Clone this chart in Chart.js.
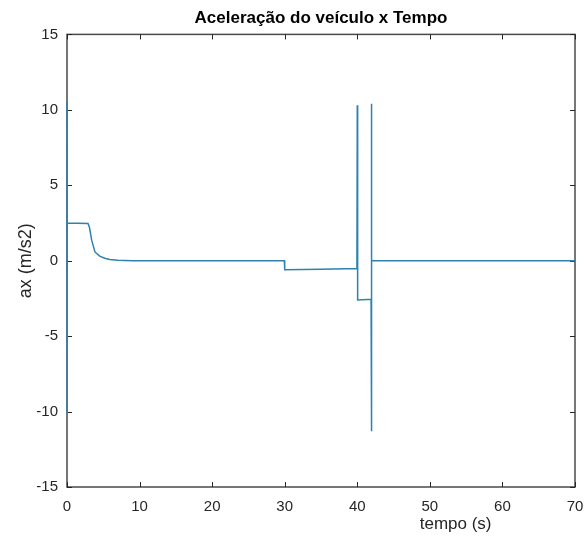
<!DOCTYPE html>
<html>
<head>
<meta charset="utf-8">
<script src="https://cdn.jsdelivr.net/npm/chart.js"></script>
<style>
  html, body { margin: 0; padding: 0; background: #fff; overflow: hidden; }
  #wrap { width: 585px; height: 544px; }
  canvas { display: block; }
</style>
</head>
<body>
<div id="wrap"><canvas id="acel" width="585" height="544"></canvas></div>
<script>
Chart.defaults.font.family = "'Liberation Sans', Arial, sans-serif";
Chart.defaults.color = "#262626";

// tempo (s) and ax (m/s2)
const tempo = [0, 0, 0.05, 2.9, 3.1, 3.4, 3.85, 4.5, 5.2, 5.9, 7.0, 9.0,
  29.95, 30, 35, 39.95, 40, 40.05, 41.9, 41.95, 41.95, 42, 70];
const ax = [10.5, -10.1, 2.5, 2.46, 2.2, 1.36, 0.58, 0.3, 0.16, 0.08, 0.03, 0,
  0, -0.6, -0.56, -0.52, 10.3, -2.6, -2.55, -11.3, 10.4, 0, 0];

const xTicks = [0, 10, 20, 30, 40, 50, 60, 70];
const yTicks = [-15, -10, -5, 0, 5, 10, 15];

const axisColor = '#4a4a4a';

const matlabBox = {
  id: 'matlabBox',
  beforeDatasetsDraw(chart) {
    const c = chart.ctx, a = chart.chartArea;
    const xs = chart.scales.x, ys = chart.scales.y;
    c.save();
    c.strokeStyle = axisColor;
    c.lineWidth = 1.5;
    c.strokeRect(a.left, a.top, a.right - a.left, a.bottom - a.top);
    c.lineWidth = 1;
    c.strokeStyle = '#262626';
    c.beginPath();
    xTicks.forEach(v => {
      const p = Math.round(xs.getPixelForValue(v)) + 0.5;
      c.moveTo(p, a.bottom); c.lineTo(p, a.bottom - 5);
      c.moveTo(p, a.top); c.lineTo(p, a.top + 5);
    });
    yTicks.forEach(v => {
      const p = Math.round(ys.getPixelForValue(v)) + 0.5;
      c.moveTo(a.left, p); c.lineTo(a.left + 5, p);
      c.moveTo(a.right, p); c.lineTo(a.right - 5, p);
    });
    c.stroke();
    c.restore();
  },
  afterDraw(chart) {
    const c = chart.ctx, a = chart.chartArea;
    c.save();
    c.fillStyle = '#262626';
    c.font = "17px 'Liberation Sans', Arial, sans-serif";
    c.textAlign = 'center';
    c.textBaseline = 'middle';
    c.fillText('tempo (s)', a.left + (a.right - a.left) * 0.765, 524);
    c.restore();
  }
};

new Chart(document.getElementById('acel'), {
  type: 'scatter',
  data: {
    datasets: [{
      label: 'ax',
      data: tempo.map((t, i) => ({ x: t, y: ax[i] })),
      showLine: true,
      borderColor: '#2f82b0',
      borderWidth: 1.5,
      pointRadius: 0,
      tension: 0,
      clip: 3
    }]
  },
  options: {
    responsive: false,
    animation: false,
    layout: { autoPadding: false, padding: { left: 0, right: 10, top: 0, bottom: 0 } },
    plugins: {
      legend: { display: false },
      tooltip: { enabled: false },
      title: {
        display: true,
        fullSize: false,
        text: 'Aceleração do veículo x Tempo',
        color: '#000',
        font: { size: 17, weight: 'bold' },
        padding: { top: 8, bottom: 6 }
      }
    },
    scales: {
      x: {
        type: 'linear',
        min: 0, max: 70,
        grid: { display: false, drawTicks: false },
        border: { display: false },
        ticks: { stepSize: 10, font: { size: 15 }, padding: 11, maxRotation: 0 },
        afterFit(s) { s.height = 57; s.paddingLeft = 0; s.paddingRight = 0; }
      },
      y: {
        min: -15, max: 15,
        grid: { display: false, drawTicks: false },
        border: { display: false },
        ticks: { stepSize: 5, font: { size: 15 }, padding: 9 },
        title: { display: true, text: 'ax (m/s2)', font: { size: 18 }, padding: { top: 15, bottom: 0 } },
        afterFit(s) { s.width = 67; s.paddingTop = 0; s.paddingBottom = 0; }
      }
    }
  },
  plugins: [matlabBox]
});
</script>
</body>
</html>
